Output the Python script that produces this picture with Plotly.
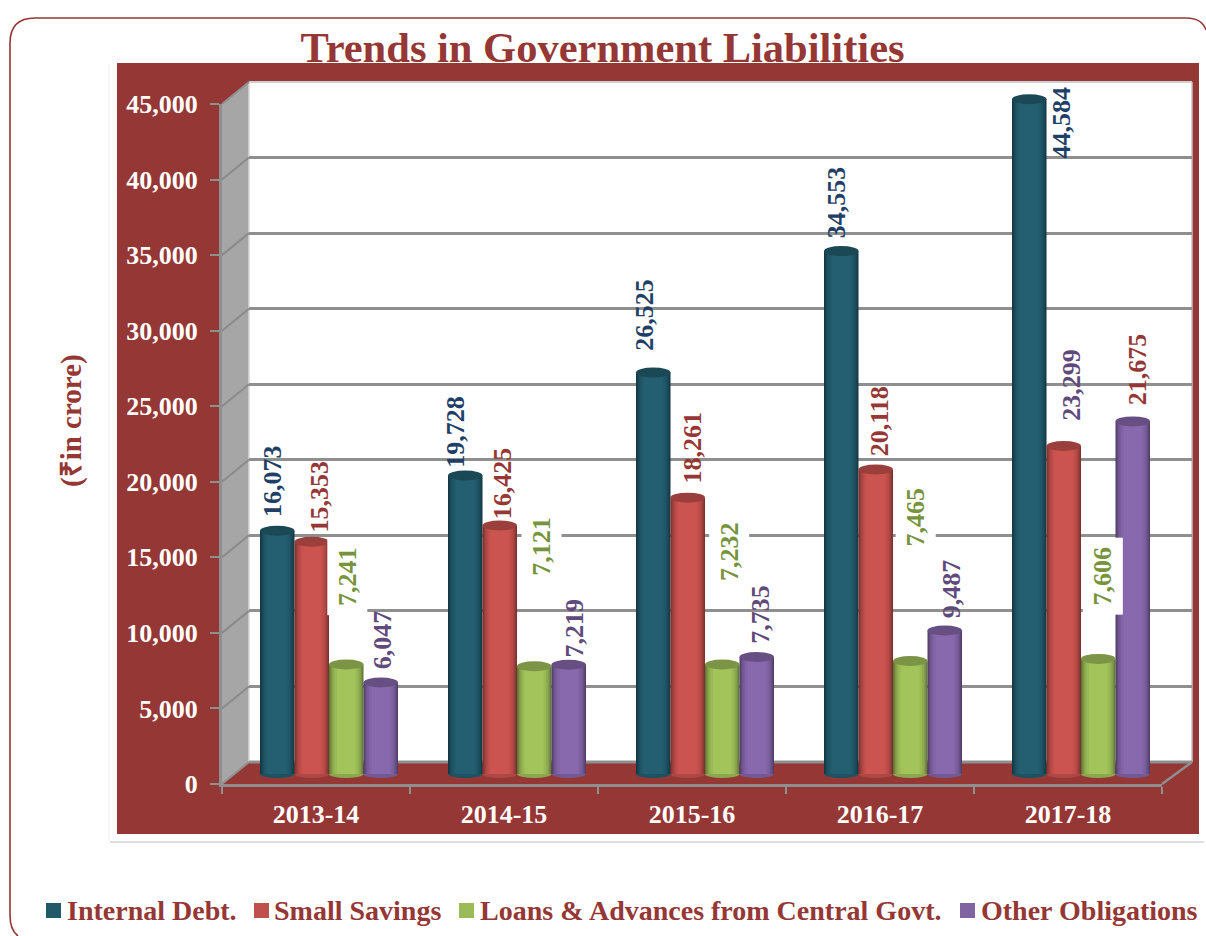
import plotly.graph_objects as go

# ---- data ----
categories = ["2013-14", "2014-15", "2015-16", "2016-17", "2017-18"]
internal_debt = [16073, 19728, 26525, 34553, 44584]
small_savings = [15353, 16425, 18261, 20118, 21675]
loans_advances = [7241, 7121, 7232, 7465, 7606]
other_obligations = [6047, 7219, 7735, 9487, 23299]
series_names = ["Internal Debt.", "Small Savings",
                "Loans & Advances from Central Govt.", "Other Obligations"]
y_ticks = [0, 5000, 10000, 15000, 20000, 25000, 30000, 35000, 40000, 45000]
# the printed labels of the last year sit on the other series' bars in the source
small_savings_labels = [15353, 16425, 18261, 20118, 23299]
other_obligations_labels = [6047, 7219, 7735, 9487, 21675]

# ---- style / layout ----
W, H = 1206, 936
PANEL = "#953735"
GRID = "#8f8f8f"
bar_colors = ["#235F71", "#CC5450", "#A2C45B", "#8869AE"]
label_colors = ["#1F3F66", "#953735", "#77933C", "#604A7B"]
legend_colors = ["#215968", "#C0504D", "#9BBB59", "#8064A2"]
serif = "Liberation Serif"
bar_w = 34.5 / 188
strips = [(1.0, .58), (.96, .66), (.91, .74), (.85, .82), (.78, .89), (.68, .95), (.55, 1.0)]

# label offsets from the top of each bar, in pixels
label_dx = [[-4, -10, -9, -5, 32], [8, 3, 5, 4, 8], [1, 7, 7, 5, 5], [2, 6, 4, 7, 5]]
label_dy = [[50, 44, 58, 49, -23], [45, 42, 50, 48, 61],
            [88, 120, 113, 144, 83], [43, 37, 43, 42, 52]]


def X(x):
    return x / W


def Y(y):
    return 1 - y / H


def shade(hex_color, f):
    r, g, b = (int(hex_color[i:i + 2], 16) for i in (1, 3, 5))
    return f"rgb({int(r * f)},{int(g * f)},{int(b * f)})"


def poly(points, closed=True):
    d = "M " + " L ".join(f"{X(a):.5f},{Y(b):.5f}" for a, b in points)
    return d + (" Z" if closed else "")


def line(x0, y0, x1, y1, color=GRID, width=2.5, layer="below"):
    return dict(type="line", xref="paper", yref="paper", x0=X(x0), y0=Y(y0), x1=X(x1), y1=Y(y1),
                line=dict(color=color, width=width), layer=layer)


def rect(x0, y0, x1, y1, color, layer="below"):
    return dict(type="rect", xref="paper", yref="paper", x0=X(x0), y0=Y(y0), x1=X(x1), y1=Y(y1),
                fillcolor=color, line=dict(width=0), layer=layer)


values = [internal_debt, small_savings, loans_advances, other_obligations]
labels = [internal_debt, small_savings_labels, loans_advances, other_obligations_labels]

fig = go.Figure()

# front axis frame
fig.add_trace(go.Scatter(x=categories, y=[0] * 5, xaxis="x", yaxis="y", mode="markers",
                         marker=dict(opacity=0), hoverinfo="skip", showlegend=False))
# back wall grid
fig.add_trace(go.Scatter(x=categories, y=[0] * 5, xaxis="x2", yaxis="y2", mode="markers",
                         marker=dict(opacity=0), hoverinfo="skip", showlegend=False))

shapes = [
    rect(110, 63, 1205, 841, "#ffffff"),
    line(110, 842, 1204, 842, "#dedede", 2),
    line(109, 64, 109, 841, "#f4f4f4", 1.5),
    rect(117, 63, 1199, 834, PANEL),
    rect(249, 82, 1192, 762, "#ffffff"),
    dict(type="path", xref="paper", yref="paper", layer="below", fillcolor="#a6a6a6",
         line=dict(width=0), path=poly([(222, 104), (249, 82), (249, 762), (222, 784)])),
    line(249, 82, 1192, 82, "#c9d0d2", 2),
    line(249, 82, 249, 762, "#d8d8d8", 1.5),
    line(1192, 82, 1192, 762, "#c4c4c4", 1.5),
    line(249, 762, 1192, 762, GRID, 3),
    line(222, 104, 249, 82, GRID, 2),
    line(222, 784, 249, 762, GRID, 2),
    line(1162, 784, 1192, 762, GRID, 2.5),
    # rounded outer frame
    dict(type="path", xref="paper", yref="paper", layer="below", line=dict(color=PANEL, width=1.6),
         path=(f"M {X(1206):.5f},{Y(30):.5f} Q {X(1202):.5f},{Y(18):.5f} {X(1186):.5f},{Y(18):.5f} "
               f"L {X(35):.5f},{Y(18):.5f} Q {X(10):.5f},{Y(18):.5f} {X(10):.5f},{Y(43):.5f} "
               f"L {X(10):.5f},{Y(915):.5f} Q {X(10):.5f},{Y(930):.5f} {X(18):.5f},{Y(936):.5f}")),
]
# side-wall grid lines
for t in y_ticks[1:-1]:
    f = t / y_ticks[-1]
    shapes.append(line(222, 784 - 680 * f, 249, 762 - 680 * f, "#8a8a8a", 2))

annotations = []
# cylinders on their own plane
for s, vals in enumerate(values):
    xs = [i + (s - 1.5) * bar_w for i in range(len(categories))]
    for frac, f in strips:
        fig.add_trace(go.Bar(x=xs, y=vals, width=bar_w * frac, xaxis="x3", yaxis="y3",
                             marker=dict(color=shade(bar_colors[s], f), line=dict(width=0)),
                             hoverinfo="skip", showlegend=False))
    for i, v in enumerate(vals):
        x0, x1 = xs[i] - bar_w / 2, xs[i] + bar_w / 2
        # base and top ellipses
        shapes.append(dict(type="circle", xref="x3", yref="y3", ysizemode="pixel", yanchor=0,
                           x0=x0, x1=x1, y0=-4, y1=4, layer="below",
                           fillcolor=shade(bar_colors[s], .86), line=dict(width=0)))
        shapes.append(dict(type="circle", xref="x3", yref="y3", ysizemode="pixel", yanchor=v,
                           x0=x0, x1=x1, y0=-5, y1=5, layer="above",
                           fillcolor=shade(bar_colors[s], .76), line=dict(width=0)))
        # data labels
        lbl_color = label_colors[s]
        if labels[s][i] != v:
            lbl_color = label_colors[3] if s == 1 else label_colors[1]
        ann = dict(x=xs[i], y=v, xref="x3", yref="y3", text=f"{labels[s][i]:,}", showarrow=False,
                   textangle=-90, xanchor="center", yanchor="middle",
                   xshift=label_dx[s][i], yshift=label_dy[s][i],
                   font=dict(family=serif, size=26, color=lbl_color, weight="bold"))
        if s == 2:
            ann.update(bgcolor="#ffffff", width=74, height=37)
        annotations.append(ann)

# legend row
legend_sq = [46, 254, 459, 960]
legend_txt = [65, 272, 478, 979]
for s, name in enumerate(series_names):
    shapes.append(rect(legend_sq[s], 903, legend_sq[s] + 15, 918, legend_colors[s], "above"))
    annotations.append(dict(x=X(legend_txt[s]), y=Y(910), xref="paper", yref="paper", text=name,
                            showarrow=False, xanchor="left", yanchor="middle",
                            font=dict(family=serif, size=28, color=PANEL, weight="bold")))

# axis caption
annotations.append(dict(x=X(72), y=Y(421), xref="paper", yref="paper", text="(₹in crore)",
                        showarrow=False, textangle=-90, xanchor="center", yanchor="middle",
                        font=dict(family=serif, size=29, color=PANEL, weight="bold")))

tick_font = dict(family=serif, size=26, color="#ffffff", weight="bold")
fig.update_layout(
    width=W, height=H, margin=dict(l=0, r=0, t=0, b=0, autoexpand=False), autosize=False,
    paper_bgcolor="#ffffff", plot_bgcolor="rgba(0,0,0,0)",
    barmode="overlay", showlegend=False,
    title=dict(text="Trends in Government Liabilities", x=X(602.5), xanchor="center",
               y=Y(47), yanchor="middle", xref="container", yref="container",
               font=dict(family=serif, size=42.5, color=PANEL, weight="bold")),
    xaxis=dict(domain=[X(222), X(1162)], anchor="y", type="category", categoryorder="array",
               categoryarray=categories, range=[-.5, 4.5], tickson="boundaries", ticks="outside",
               ticklen=7, tickcolor=GRID, tickwidth=2, showline=True, linecolor=GRID, linewidth=3,
               showgrid=False, zeroline=False, tickfont=tick_font, ticklabelstandoff=5),
    yaxis=dict(domain=[Y(784), Y(104)], anchor="x", range=[0, 45000], tickvals=y_ticks,
               tickformat=",d", ticks="outside", ticklen=9, tickcolor=GRID, tickwidth=2,
               showline=True, linecolor=GRID, linewidth=3, showgrid=False, zeroline=False,
               tickfont=tick_font, ticklabelstandoff=7),
    xaxis2=dict(domain=[X(249), X(1192)], anchor="y2", type="category", categoryorder="array",
                categoryarray=categories, range=[-.5, 4.5], visible=False),
    yaxis2=dict(domain=[Y(762), Y(82)], anchor="x2", range=[0, 45000], tickvals=y_ticks[1:-1],
                showgrid=True, gridcolor=GRID, gridwidth=3, zeroline=False, showline=False,
                showticklabels=False, ticks=""),
    xaxis3=dict(domain=[X(235), X(1175)], anchor="y3", range=[-.5, 4.5], visible=False),
    # the axis starts a little below zero so the base ellipses are not clipped
    yaxis3=dict(domain=[Y(784), Y(93)], anchor="x3", range=[-660, 45000], visible=False),
    shapes=shapes, annotations=annotations,
)

fig.write_html("out.html", config=dict(displayModeBar=False),
               post_script="document.body.style.margin='0';document.body.style.overflow='hidden';")
